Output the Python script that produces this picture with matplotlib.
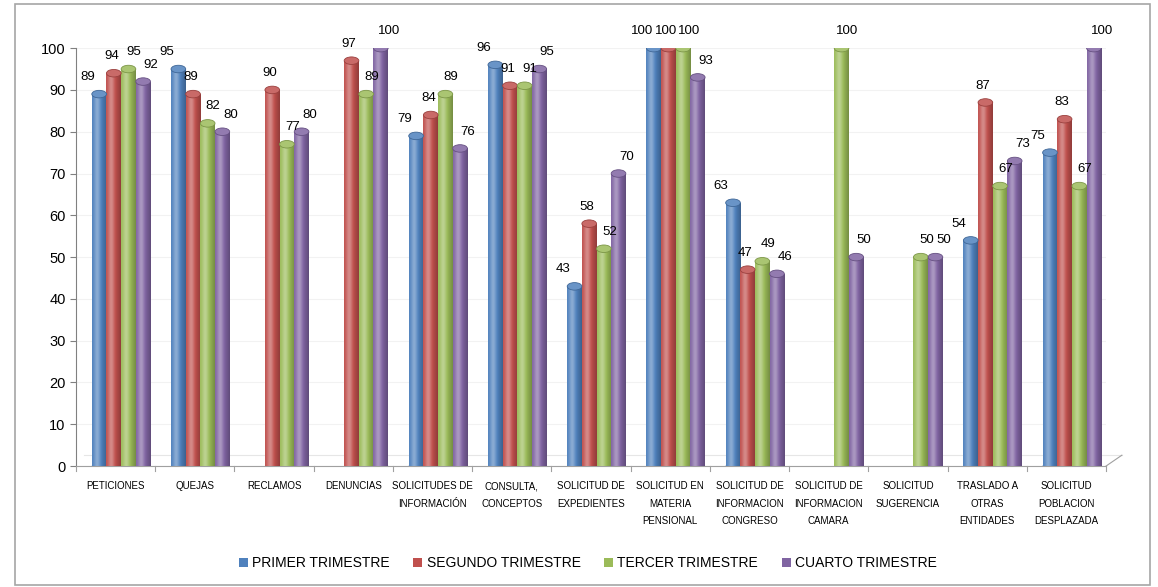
import numpy as np
import matplotlib.pyplot as plt
from matplotlib.patches import Rectangle, Ellipse

# data
categories = ['PETICIONES', 'QUEJAS', 'RECLAMOS', 'DENUNCIAS', 'SOLICITUDES DE\nINFORMACIÓN',
              'CONSULTA,\nCONCEPTOS', 'SOLICITUD DE\nEXPEDIENTES', 'SOLICITUD EN\nMATERIA\nPENSIONAL',
              'SOLICITUD DE\nINFORMACION\nCONGRESO', 'SOLICITUD DE\nINFORMACION\nCAMARA',
              'SOLICITUD\nSUGERENCIA', 'TRASLADO A\nOTRAS\nENTIDADES', 'SOLICITUD\nPOBLACION\nDESPLAZADA']
series_names = ['PRIMER TRIMESTRE', 'SEGUNDO TRIMESTRE', 'TERCER TRIMESTRE', 'CUARTO TRIMESTRE']
nan = np.nan
primer = [89, 95, nan, nan, 79, 96, 43, 100, 63, nan, nan, 54, 75]
segundo = [94, 89, 90, 97, 84, 91, 58, 100, 47, nan, nan, 87, 83]
tercer = [95, 82, 77, 89, 89, 91, 52, 100, 49, 100, 50, 67, 67]
cuarto = [92, 80, 80, 100, 76, 95, 70, 93, 46, 50, 50, 73, 100]
colors = ['#4F81BD', '#C0504D', '#9BBB59', '#8064A2']

plt.rcParams['font.family'] = ['Liberation Sans', 'DejaVu Sans']

fig = plt.figure(figsize=(11.58, 5.87), dpi=100)
ax = fig.add_axes([0.0656, 0.206, 0.8895, 0.712])

# outer frame
fig.patches.append(Rectangle((0.013, 0.003), 0.98, 0.99, transform=fig.transFigure,
                             fill=False, edgecolor='#A6A6A6', lw=1.2))

x = np.arange(len(categories))
w = 0.185
depth = 0.07   # fake 3d shift of the bars
offsets = (np.arange(4) - 1.5) * w + depth
lab_shift = [-0.15, -0.03, 0.07, 0.1]
all_vals = [primer, segundo, tercer, cuarto]


def shade(c, f):
    c = np.array(plt.matplotlib.colors.to_rgb(c))
    if f > 0:
        return c + (1 - c) * f
    return c * (1 + f)


# horizontal gradient for the cylinder look
grad_t = np.linspace(0, 1, 40)
prof = 0.35 * np.exp(-((grad_t - 0.35) / 0.22) ** 2) - 0.25 * grad_t ** 3

for vals, col, off, name, ls in zip(all_vals, colors, offsets, series_names, lab_shift):
    bars = ax.bar(x + off, vals, width=w, color=col, label=name, zorder=3)
    for b, v in zip(bars, vals):
        if np.isnan(v):
            continue
        img = np.array([[shade(col, f) for f in prof]])
        im = ax.imshow(img, extent=(b.get_x(), b.get_x() + w, 0, v), aspect='auto',
                       zorder=3.5, interpolation='bicubic')
        im.set_clip_path(b)
        ax.add_patch(Ellipse((b.get_x() + w / 2, v), w, 1.8, facecolor=shade(col, 0.15),
                             edgecolor=shade(col, -0.2), lw=0.6, zorder=4))
        ax.add_patch(Ellipse((b.get_x() + w / 2, 0), w, 1.6, facecolor=shade(col, -0.1),
                             edgecolor='none', zorder=2.9))
        ax.text(b.get_x() + w / 2 + ls, v + 2.6, f'{v:.0f}', ha='center', va='bottom',
                fontsize=9.5, zorder=5, clip_on=False)

ax.set_xlim(-0.5, len(categories) - 0.5)
ax.set_ylim(0, 100)
ax.set_yticks(range(0, 101, 10))
ax.tick_params(axis='y', labelsize=10.5, length=4, color='#808080')
ax.set_xticks(x)
ax.set_xticklabels(categories, fontsize=7, linespacing=1.9)
ax.tick_params(axis='x', length=0, pad=11)
for k in range(len(categories) + 1):
    ax.plot([k - 0.5, k - 0.5], [0, -1.2], color='#A0A0A0', lw=0.8, clip_on=False)

for s in ['top', 'right']:
    ax.spines[s].set_visible(False)
ax.spines['left'].set_color('#808080')
ax.spines['bottom'].set_color('#A0A0A0')
ax.grid(axis='y', color='#F2F2F2', lw=0.8, zorder=0)
ax.set_axisbelow(True)
# floor edge
ax.plot([len(categories) - 0.5, len(categories) - 0.3], [0, 2.6], color='#A0A0A0', lw=0.8, clip_on=False)
ax.plot([-0.4, len(categories) - 0.3], [2.6, 2.6], color='#E6E6E6', lw=0.8, zorder=1, clip_on=False)

ax.legend(loc='center', bbox_to_anchor=(0.497, -0.232), ncol=4, frameon=False, fontsize=10,
          handlelength=0.65, handleheight=0.65, handletextpad=0.3, columnspacing=1.7)

fig.savefig('out.png', dpi=100)
